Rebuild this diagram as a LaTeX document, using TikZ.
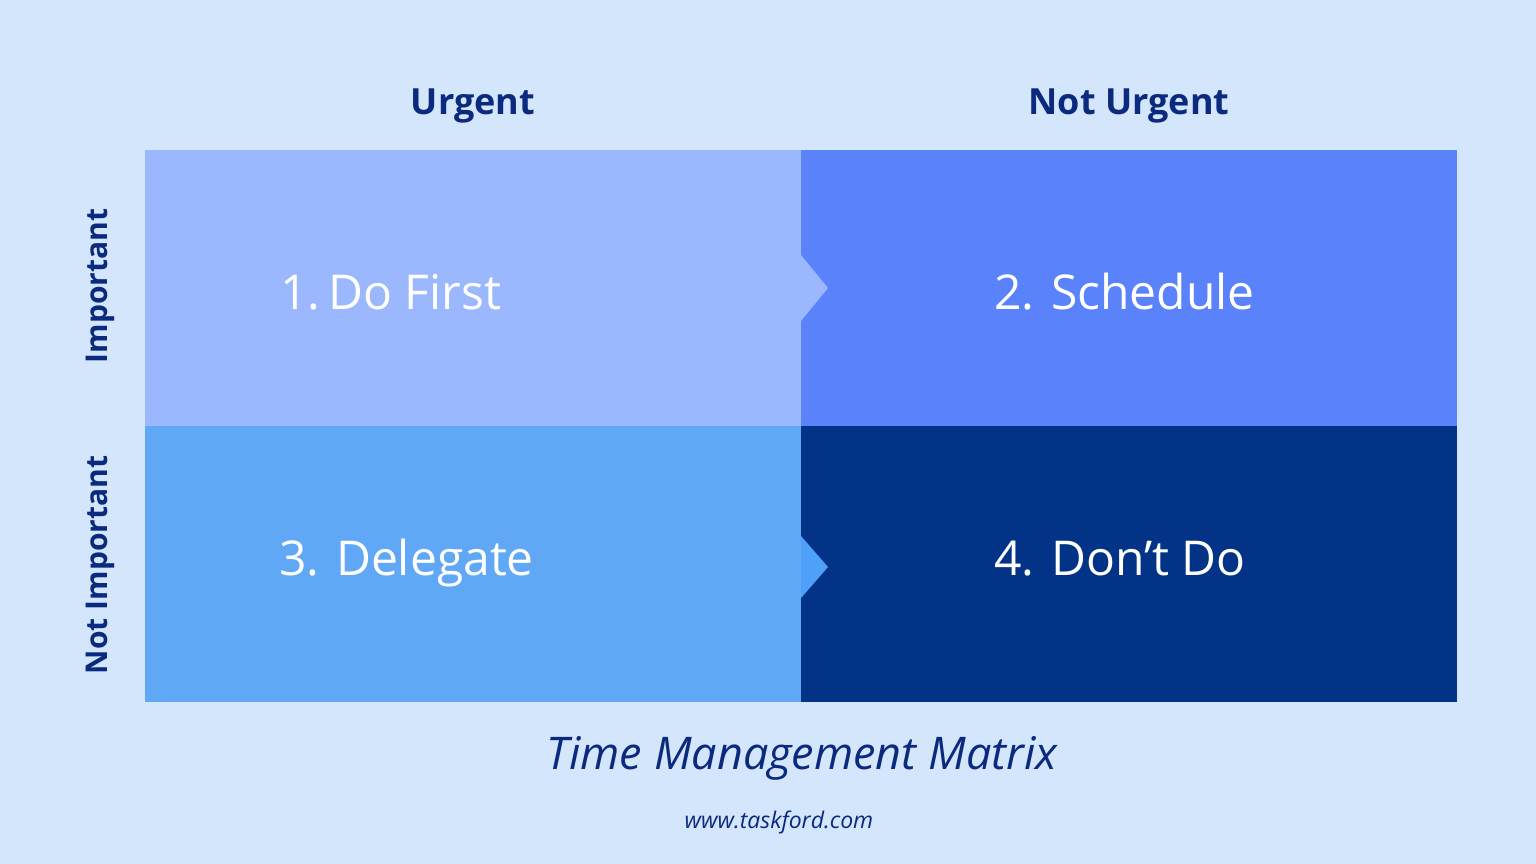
\documentclass[tikz,border=0pt]{standalone}
\usepackage{fontspec}
\setmainfont{Open Sans}
\definecolor{bg}{HTML}{D3E6FC}
\definecolor{qone}{HTML}{9BB8FE}
\definecolor{qtwo}{HTML}{5A82FB}
\definecolor{qthree}{HTML}{60A8F6}
\definecolor{qfour}{HTML}{023387}
\definecolor{tritwo}{HTML}{4FA0F8}
\definecolor{navy}{HTML}{0B2A7E}
\tikzset{
  quad/.style={minimum width=656pt, minimum height=276pt, anchor=north west, inner sep=0pt, draw=none},
  qtext/.style={text=white, anchor=base west, inner sep=0pt, font=\fontsize{48pt}{58pt}\selectfont},
  header/.style={text=navy, inner sep=0pt, anchor=base, font=\bfseries\fontsize{36pt}{44pt}\selectfont},
  side/.style={text=navy, inner sep=0pt, rotate=90, font=\bfseries\fontsize{30pt}{36pt}\selectfont}
}
\begin{document}
\begin{tikzpicture}[x=1pt,y=-1pt]
\useasboundingbox (0,0) rectangle (1536,864);
\fill[bg] (0,0) rectangle (1536,864);
\node[quad, fill=qone] (q1) at (145,150) {};
\node[quad, fill=qtwo] (q2) at (801,150) {};
\node[quad, fill=qthree] (q3) at (145,426) {};
\node[quad, fill=qfour] (q4) at (801,426) {};
\fill[qone] (801,255) -- (828,288) -- (801,321) -- cycle;
\fill[tritwo] (801,536) -- (828,567) -- (801,598) -- cycle;
\node[qtext] (t1) at (280,309) {1.\,Do First};
\node[qtext] (t2) at (994,309) {2. Schedule};
\node[qtext] (t3) at (279,575) {3. Delegate};
\node[qtext] (t4) at (994,575) {4. Don’t Do};
\node[header] (h1) at (473,115) {Urgent};
\node[header] (h2) at (1129,115) {Not Urgent};
\node[side] (s1) at (100,286) {Important};
\node[side] (s2) at (100,565) {Not Important};
\node[text=navy, inner sep=0pt, anchor=base, font=\itshape\fontsize{45pt}{54pt}\selectfont] (title) at (802,769) {Time Management Matrix};
\node[text=navy, inner sep=0pt, anchor=base, font=\itshape\fontsize{23pt}{28pt}\selectfont] (url) at (779,828) {www.taskford.com};
\end{tikzpicture}
\end{document}
